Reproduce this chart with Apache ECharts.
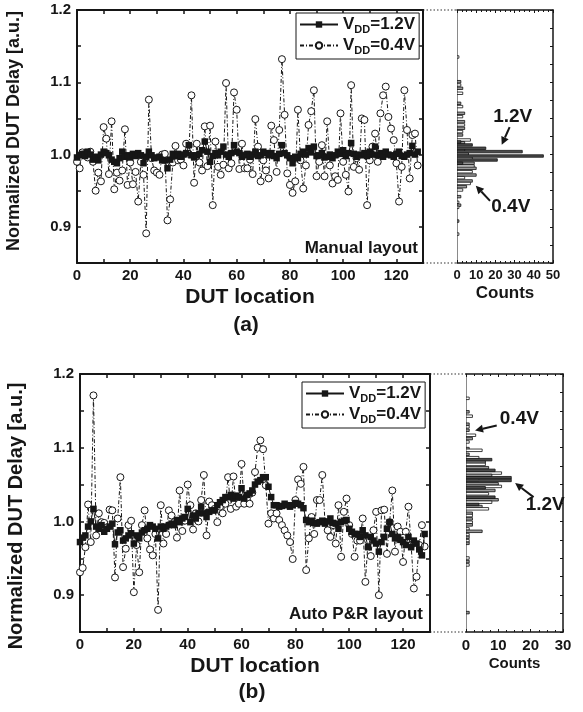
<!DOCTYPE html>
<html><head><meta charset="utf-8">
<script src="https://cdn.jsdelivr.net/npm/echarts@6/dist/echarts.min.js"></script>
<style>html,body{margin:0;padding:0;background:#fff}#c{width:583px;height:712px}</style>
</head><body><div id="c"></div>
<script>
// ---------------- data ----------------
// (a) Manual layout : normalized delay per DUT location (index = location)
const manualVdd12 = [0.996,0.999,1.001,0.998,1.004,1.000,0.993,0.997,0.992,1.000,1.004,1.002,0.999,0.993,0.990,0.988,0.995,1.004,0.997,0.999,
0.996,1.001,0.998,1.002,0.999,0.988,0.997,1.004,0.999,0.995,0.996,0.997,0.992,0.992,0.981,0.993,1.001,0.998,1.001,0.997,
1.000,1.002,1.013,0.999,0.996,0.999,1.001,1.006,1.018,1.004,0.990,0.998,1.002,0.999,1.004,1.011,1.000,0.997,1.002,1.013,
1.004,1.002,0.997,0.999,1.001,0.997,1.000,1.004,0.998,0.999,1.004,1.002,0.999,1.002,0.998,0.995,1.001,1.013,1.002,0.999,
0.995,0.988,0.997,0.995,1.001,1.004,1.000,1.009,1.003,1.011,0.998,0.999,1.002,0.996,0.997,1.000,0.995,0.999,1.004,1.001,
1.006,0.998,1.002,1.016,1.001,0.997,1.000,0.999,1.002,0.998,1.004,1.000,1.011,0.999,1.002,0.997,1.004,1.000,0.999,0.997,
1.001,1.004,0.998,0.997,1.000,1.002,1.012,1.000,1.004];
const manualVdd04 = [0.990,0.981,1.003,1.001,0.996,1.004,0.990,0.950,0.975,0.963,1.038,1.022,0.973,1.046,0.952,0.975,0.964,0.978,1.035,0.958,
0.989,0.959,0.976,0.935,0.990,0.972,0.891,1.076,0.995,0.978,0.975,0.972,1.000,1.001,0.909,0.938,0.989,1.012,0.992,0.993,
0.985,1.015,1.001,1.082,0.961,1.015,0.989,0.978,1.039,0.984,1.040,0.930,1.018,0.983,0.972,0.986,1.099,0.981,0.988,1.086,
1.062,0.980,1.015,0.981,0.981,0.993,0.973,1.049,1.011,0.963,0.992,0.978,0.967,1.040,1.020,0.976,1.034,1.132,1.055,0.974,
0.958,0.947,0.963,1.062,0.992,0.953,0.985,1.041,1.060,1.089,0.970,0.990,1.013,0.970,1.046,0.985,0.960,0.970,0.965,1.057,
0.990,0.972,0.949,1.096,0.983,0.995,0.979,1.050,1.048,0.930,0.992,1.011,1.029,0.990,1.057,1.082,1.094,1.052,1.036,1.020,
0.988,0.935,0.983,1.089,1.034,0.967,1.027,1.029,0.985];
// (b) Auto P&R layout
const autoVdd12 = [0.972,0.978,0.981,0.993,1.000,1.017,0.993,0.990,0.995,0.986,0.990,0.993,0.997,0.969,0.985,0.988,0.974,0.977,0.981,0.984,
0.970,0.981,0.977,0.985,0.988,0.990,0.995,0.993,0.990,0.977,0.993,0.990,0.993,0.995,0.997,0.995,1.002,0.999,1.004,1.006,
1.017,0.999,1.008,1.004,1.011,1.020,1.011,1.006,1.013,1.015,1.015,1.022,1.026,1.029,1.033,1.033,1.036,1.031,1.035,1.033,
1.045,1.031,1.036,1.038,1.042,1.050,1.054,1.056,1.060,1.060,1.047,1.033,1.022,1.022,1.020,1.021,1.024,1.022,1.020,1.022,
1.025,1.024,1.022,1.018,1.002,0.999,1.001,0.998,0.997,0.999,1.001,0.997,1.000,1.004,0.998,0.997,0.990,0.999,1.001,1.002,
0.990,0.986,0.983,0.983,0.979,0.988,0.981,0.965,0.979,0.974,0.970,0.959,0.972,0.979,0.990,0.999,0.983,0.977,0.979,0.975,
0.972,0.968,0.979,0.965,0.974,0.970,0.962,0.954,0.983];
const autoVdd04 = [0.931,0.937,0.965,1.023,0.972,1.171,0.981,1.011,0.999,0.998,0.992,1.016,1.015,0.924,1.004,1.060,0.938,0.963,0.995,1.001,
0.904,0.968,0.931,0.995,1.015,0.977,0.962,0.954,0.983,0.880,1.022,0.970,0.983,1.015,1.008,0.999,0.978,1.042,0.987,1.001,
1.050,1.022,0.989,1.011,1.000,1.029,1.063,0.981,1.027,1.022,1.017,0.999,1.020,1.011,1.024,1.060,1.017,1.061,1.020,1.024,
1.078,1.024,1.031,1.024,1.039,1.067,1.100,1.110,1.098,1.049,0.997,1.011,1.004,1.011,1.002,0.995,0.988,0.981,0.972,0.949,
1.029,1.057,1.051,1.074,0.934,0.977,1.006,0.983,1.029,1.029,1.063,0.999,0.988,0.979,0.995,0.970,1.022,0.952,1.013,1.031,
0.995,0.983,0.952,0.974,0.974,1.004,0.918,0.974,0.953,0.988,1.013,0.900,1.015,1.016,0.956,0.999,1.042,0.959,0.993,0.986,
0.945,0.986,1.020,0.968,0.909,0.925,0.968,0.995,0.966];
// histograms : [normalized delay, counts]
const manualHist12 = [[1.0175,2],[1.0133,8],[1.0087,15],[1.0041,34],[0.998,45],[0.9925,21],[0.988,3]];
const manualHist04 = [[1.135,1],[1.1008,2],[1.0963,2],[1.0917,3],[1.0848,3],[1.0709,2],[1.0664,3],[1.0571,4],[1.0525,3],
[1.0455,4],[1.041,4],[1.0364,4],[1.0318,3],[1.0271,3],[1.0202,7],[1.0164,4],[1.0064,4],[1.0008,6],[0.9948,8],[0.988,9],[0.984,9],
[0.981,10],[0.9763,8],[0.9717,10],[0.968,4],[0.9635,8],[0.960,7],[0.9556,5],[0.951,3],[0.9418,2],[0.934,1],[0.930,2],[0.927,1],
[0.908,1],[0.890,1]];
const autoHist12 = [[1.0838,8],[1.0693,9],[1.0593,14],[1.0556,14],[1.0457,6],[1.0329,9],[1.023,4]];
const autoHist04 = [[1.167,1],[1.1487,1],[1.1428,2],[1.1319,1],[1.1283,1],[1.1237,1],[1.1169,3],[1.1124,2],[1.1078,1],[1.0988,1],
[1.0965,5],[1.091,1],[1.0865,4],[1.0806,6],[1.0774,6],[1.0729,7],[1.0656,11],[1.0625,8],[1.0566,4],[1.0511,10],[1.0475,11],
[1.042,9],[1.0375,7],[1.0294,10],[1.0261,8],[1.0202,5],[1.0171,7],[1.0111,2],[1.008,2],[1.0035,2],[0.9989,2],[0.9953,2],
[0.9899,1],[0.9866,5],[0.9821,1],[0.9784,1],[0.9739,1],[0.9703,1],[0.9504,1],[0.9455,1],[0.941,1],[0.8763,1]];
// tick labels
const locationTicks = [0,20,40,60,80,100,120];
const delayTicks = [0.9,1.0,1.1,1.2];
const countTicksManual = [0,10,20,30,40,50];
const countTicksAuto = [0,10,20,30];
// annotation anchors [counts, delay]
const manualNote12 = {text:'1.2V', at:[29,1.052], from:[27.4,1.038], to:[23.3,1.0135]};
const manualNote04 = {text:'0.4V', at:[28,0.928], from:[17.2,0.936], to:[9.8,0.957]};
const autoNote04 = {text:'0.4V', at:[16.5,1.1398], from:[9.5,1.130], to:[2.8,1.1235]};
const autoNote12 = {text:'1.2V', at:[24.5,1.022], from:[20.9,1.033], to:[15.2,1.052]};

// ---------------- layout / style ----------------
const FONT = "'Liberation Sans', Arial, Helvetica, sans-serif";
const INK = '#161616';
const GA = {left:77, top:10, width:346, height:253};
const HA = {left:457, top:10, width:96, height:253};
const GB = {left:80, top:374, width:350, height:258};
const HB = {left:466, top:374, width:97, height:258};
const BAR_H = 0.0034;

const inTicks = (len, w) => ({show:true, inside:true, length:len, lineStyle:{color:INK, width:w}});
const line = (w, c) => ({show:true, onZero:false, lineStyle:{color:c||INK, width:w}});
const near = (arr, v) => arr.some(t => Math.abs(t - v) < 1e-6);

function scatterX(gi, pos, withLabels) {
  return {type:'value', gridIndex:gi, position:pos, min:0, max:130, interval:10,
    axisLine:line(2), axisTick:inTicks(4,1.5), splitLine:{show:false},
    axisLabel: withLabels ? {show:true, margin:5, fontFamily:FONT, fontWeight:'bold', fontSize:15, color:INK,
      formatter: v => near(locationTicks, v) ? String(v) : ''} : {show:false},
    name: withLabels ? 'DUT location' : '', nameLocation:'middle', nameGap:24,
    nameTextStyle:{fontFamily:FONT, fontWeight:'bold', fontSize:21, color:INK}};
}
function scatterY(gi, pos, withLabels) {
  return {type:'value', gridIndex:gi, position:pos, min:0.85, max:1.2, interval:0.05,
    axisLine:line(2), axisTick:inTicks(4,1.5), splitLine:{show:false},
    axisLabel: withLabels ? {show:true, margin:6, fontFamily:FONT, fontWeight:'bold', fontSize:15, color:INK,
      formatter: v => near(delayTicks, v) ? v.toFixed(1) : ''} : {show:false}};
}
function histX(gi, pos, max, ticks, withLabels, labelSize, nameSize) {
  return {type:'value', gridIndex:gi, position:pos, min:0, max:max, interval:10,
    axisLine:line(1.5), axisTick:inTicks(3,1), minorTick:{show:true, splitNumber:4, length:2, lineStyle:{color:INK, width:1}},
    splitLine:{show:false}, minorSplitLine:{show:false},
    axisLabel: withLabels ? {show:true, margin:6, fontFamily:FONT, fontWeight:'bold', fontSize:labelSize, color:INK,
      formatter: v => near(ticks, v) ? String(v) : ''} : {show:false},
    name: withLabels ? 'Counts' : '', nameLocation:'middle', nameGap: labelSize + 9,
    nameTextStyle:{fontFamily:FONT, fontWeight:'bold', fontSize:nameSize, color:INK}};
}
function histY(gi, pos) {
  const right = pos === 'right';
  return {type:'value', gridIndex:gi, position:pos, min:0.85, max:1.2, interval:0.025,
    axisLine: right ? line(1.5) : line(1, '#8a8a8a'), axisTick: right ? inTicks(3,1) : {show:false},
    axisLabel:{show:false}, splitLine:{show:false}};
}

// data rows are [delay, counts]; x = counts (dim 1), y = delay (dim 0)
function histRender(fillFn) {
  return function (params, api) {
    const v = api.value(0), c = api.value(1);
    const a = api.coord([0, v]), b = api.coord([c, v]);
    const h = Math.abs(api.size([0, BAR_H])[1]);
    return {type:'rect', shape:{x:a[0], y:a[1] - h / 2, width:b[0] - a[0], height:h},
      style:{fill:fillFn(params.dataIndex), stroke:'#111', lineWidth:0.8}};
  };
}
function noteLabels(notes) {
  return {
    markPoint:{silent:true, symbol:'circle', symbolSize:1, itemStyle:{color:'rgba(0,0,0,0)'},
      label:{show:true, position:'inside', fontFamily:FONT, fontWeight:'bold', fontSize:19, color:INK, formatter: p => p.name},
      data: notes.map(n => ({name:n.text, coord:n.at}))}
  };
}
function histSeries(name, data, xi, yi, fillFn, notes) {
  return Object.assign({type:'custom', name:name, xAxisIndex:xi, yAxisIndex:yi, clip:true,
    renderItem:histRender(fillFn), encode:{x:1, y:0}, data:data, z:3}, notes ? noteLabels(notes) : {});
}
const N12 = 'VDD=1.2V', N04 = 'VDD=0.4V';
function lineSeries(name, vals, xi, yi) {
  const is12 = name === N12;
  return {type:'line', name:name, xAxisIndex:xi, yAxisIndex:yi,
    data: vals.map((v, i) => [i, v]),
    symbol: is12 ? 'rect' : 'circle', symbolSize: is12 ? 6.5 : 7, showSymbol:true,
    itemStyle: is12 ? {color:INK, borderColor:INK, borderWidth:0} : {color:'#fff', borderColor:INK, borderWidth:1},
    lineStyle: is12 ? {color:INK, width:1} : {color:INK, width:1, type:[4,2,1,2]},
    z: is12 ? 4 : 3, emphasis:{disabled:true}};
}
const alt04 = i => (i % 2 ? '#9a9a9a' : '#ffffff');
const dark12 = () => '#4a4a4a';

function legendAt(left, top) {
  return {show:true, left:left, top:top, orient:'vertical', data:[N12, N04],
    backgroundColor:'#fff', borderColor:INK, borderWidth:1, padding:[3,4,3,3], itemGap:2,
    itemWidth:38, itemHeight:8, selectedMode:false,
    formatter: n => '{a|V}{b|DD}{a|=' + n.split('=')[1] + '}',
    textStyle:{color:INK, fontFamily:FONT, fontWeight:'bold', fontSize:17,
      rich:{a:{fontFamily:FONT, fontWeight:'bold', fontSize:17, color:INK, lineHeight:21},
            b:{fontFamily:FONT, fontWeight:'bold', fontSize:11, color:INK, lineHeight:21, verticalAlign:'bottom', padding:[7,0,0,0]}}}};
}

const dotted = (x1,y1,x2,y2) => ({type:'line', silent:true, shape:{x1,y1,x2,y2}, style:{stroke:'#333', lineWidth:1.2, lineDash:[1.5,2]}});
const txt = (x, y, s, size, rot) => ({type:'text', silent:true, x:x, y:y, rotation:rot||0,
  style:{text:s, fontFamily:FONT, fontWeight:'bold', fontSize:size, fill:INK, align:'center', verticalAlign:'middle'}});

const option = {
  animation:false,
  textStyle:{fontFamily:FONT},
  grid:[GA, HA, GB, HB].map(g => Object.assign({containLabel:false}, g)),
  xAxis:[
    scatterX(0,'bottom',true), scatterX(0,'top',false),
    histX(1,'bottom',50,countTicksManual,true,13,17), histX(1,'top',50,countTicksManual,false,13,17),
    scatterX(2,'bottom',true), scatterX(2,'top',false),
    histX(3,'bottom',30,countTicksAuto,true,15,15), histX(3,'top',30,countTicksAuto,false,15,15)
  ],
  yAxis:[
    scatterY(0,'left',true), scatterY(0,'right',false),
    histY(1,'left'), histY(1,'right'),
    scatterY(2,'left',true), scatterY(2,'right',false),
    histY(3,'left'), histY(3,'right')
  ],
  legend:[legendAt(GA.left + 219, 13), legendAt(GB.left + 222, 382)],
  series:[
    lineSeries(N04, manualVdd04, 0, 0), lineSeries(N12, manualVdd12, 0, 0),
    histSeries('hist a 0.4V', manualHist04, 2, 2, alt04),
    histSeries('hist a 1.2V', manualHist12, 2, 2, dark12, [manualNote12, manualNote04]),
    lineSeries(N04, autoVdd04, 4, 4), lineSeries(N12, autoVdd12, 4, 4),
    histSeries('hist b 0.4V', autoHist04, 6, 6, alt04),
    histSeries('hist b 1.2V', autoHist12, 6, 6, dark12, [autoNote04, autoNote12])
  ],
  graphic:[
    dotted(GA.left + GA.width, GA.top, HA.left, HA.top),
    dotted(GA.left + GA.width, GA.top + GA.height, HA.left, HA.top + HA.height),
    dotted(GB.left + GB.width, GB.top, HB.left, HB.top),
    dotted(GB.left + GB.width, GB.top + GB.height, HB.left, HB.top + HB.height),
    txt(14, 131, 'Normalized DUT Delay [a.u.]', 18, Math.PI / 2),
    txt(16, 516, 'Normalized DUT Delay [a.u.]', 20, Math.PI / 2),
    txt(246, 325, '(a)', 21),
    txt(252, 692, '(b)', 21),
    {type:'text', silent:true, x:418, y:248, style:{text:'Manual layout', fontFamily:FONT, fontWeight:'bold', fontSize:17, fill:INK, align:'right', verticalAlign:'middle'}},
    {type:'text', silent:true, x:423, y:614, style:{text:'Auto P&R layout', fontFamily:FONT, fontWeight:'bold', fontSize:17, fill:INK, align:'right', verticalAlign:'middle'}}
  ]
};
const chart = echarts.init(document.getElementById('c'), null, {renderer:'canvas'});
chart.setOption(option);

// arrows in the histogram panels, placed through the histogram axes
function arrowGraphics(note, xi, yi) {
  const p0 = chart.convertToPixel({xAxisIndex:xi, yAxisIndex:yi}, note.from);
  const p1 = chart.convertToPixel({xAxisIndex:xi, yAxisIndex:yi}, note.to);
  const dx = p1[0] - p0[0], dy = p1[1] - p0[1], L = Math.hypot(dx, dy), ux = dx / L, uy = dy / L;
  const head = 8, half = 4;
  const bx = p1[0] - ux * head, by = p1[1] - uy * head;
  return [
    {type:'line', silent:true, shape:{x1:p0[0], y1:p0[1], x2:bx, y2:by}, style:{stroke:INK, lineWidth:2}},
    {type:'polygon', silent:true, shape:{points:[[p1[0], p1[1]], [bx - uy * half, by + ux * half], [bx + uy * half, by - ux * half]]}, style:{fill:INK}}
  ];
}
const arrows = [].concat(
  arrowGraphics(manualNote12, 2, 2), arrowGraphics(manualNote04, 2, 2),
  arrowGraphics(autoNote04, 6, 6), arrowGraphics(autoNote12, 6, 6));
chart.setOption({graphic: option.graphic.concat(arrows)});
</script></body></html>
